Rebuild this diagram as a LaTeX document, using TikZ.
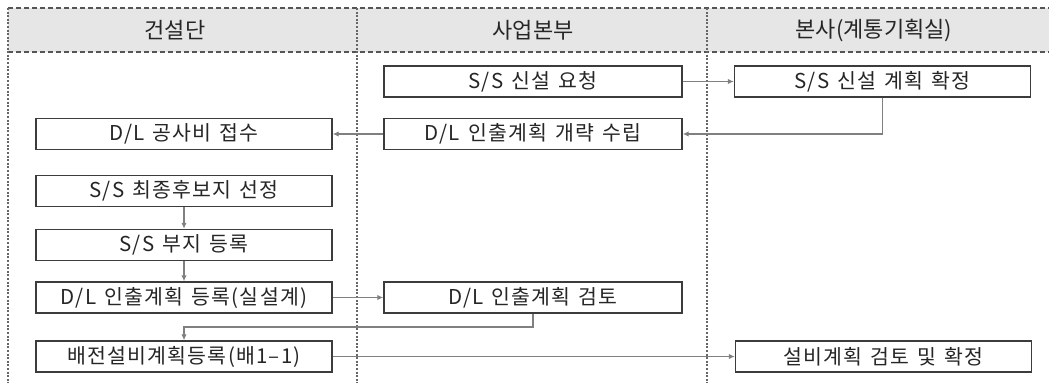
\documentclass[tikz,border=0pt]{standalone}
\usepackage{fontspec}
\setmainfont{Noto Sans CJK KR}[WordSpace=1.5]
\newfontfamily\boxfamily{Noto Sans CJK KR}[WordSpace=1.4,LetterSpace=6]
\usetikzlibrary{arrows.meta}
\definecolor{hdrfill}{HTML}{E6E6E6}
\definecolor{hdrline}{HTML}{555555}
\definecolor{dotline}{HTML}{666666}
\definecolor{boxline}{HTML}{3C3C3C}
\definecolor{conn}{HTML}{808080}
\begin{document}
\begin{tikzpicture}[x=1pt,y=-1pt,
  stepbox/.style={draw=boxline,line width=1.4pt,fill=white,minimum height=31pt,inner sep=0pt,font=\boxfamily\fontsize{20.5}{22}\selectfont,text=black!85},
  lbox/.style={stepbox,minimum width=296pt},
  mbox/.style={stepbox,minimum width=298pt},
  rbox/.style={stepbox,minimum width=296pt},
  hdr/.style={font=\fontsize{22}{24}\selectfont,text=black!85},
  conn/.style={draw=conn,line width=1.5pt,-{Latex[length=6pt,width=5.5pt]}},
  lane/.style={draw=dotline,line width=2pt,dash pattern=on 2pt off 1.6pt}]
\useasboundingbox (0,0) rectangle (1049,383);
% header
\fill[hdrfill] (8,8) rectangle (1049,52);
\draw[hdrline,line width=1.2pt,dash pattern=on 5pt off 3pt] (8,8) -- (1049,8);
\draw[hdrline,line width=1.2pt,dash pattern=on 5pt off 3pt] (8,52) -- (1049,52);
\draw[lane] (8,8) -- (8,383);
\draw[lane] (357,8) -- (357,383);
\draw[lane] (707,8) -- (707,383);
\node[hdr] (h1) at (175,30) {건설단};
\node[hdr] (h2) at (533,30) {사업본부};
\node[hdr] (h3) at (874,30) {본사(계통기획실)};
% boxes
\node[mbox] (req) at (533,81.5) {S/S 신설 요청};
\node[rbox] (plan) at (882.5,81.5) {S/S 신설 계획 확정};
\node[lbox] (cost) at (184,134) {D/L 공사비 접수};
\node[mbox] (outline) at (533,134) {D/L 인출계획 개략 수립};
\node[lbox] (final) at (184,191) {S/S 최종후보지 선정};
\node[lbox] (site) at (184,245) {S/S 부지 등록};
\node[lbox] (reg) at (184,297.5) {D/L 인출계획 등록(실설계)};
\node[mbox] (review) at (533,297.5) {D/L 인출계획 검토};
\node[lbox] (dist) at (184,356.5) {배전설비계획등록(배1–1)};
\node[rbox] (confirm) at (883.5,356.5) {설비계획 검토 및 확정};
% connectors
\draw[conn] (req) -- (plan);
\draw[conn] (plan.south) |- (outline.east);
\draw[conn] (outline) -- (cost);
\draw[conn] (final) -- (site);
\draw[conn] (site) -- (reg);
\draw[conn] (reg) -- (review);
\coordinate (bend) at (533,327);
\draw[conn] (review.south) -- (bend) -| (dist.north);
\draw[conn] (dist) -- (confirm);
\end{tikzpicture}
\end{document}
